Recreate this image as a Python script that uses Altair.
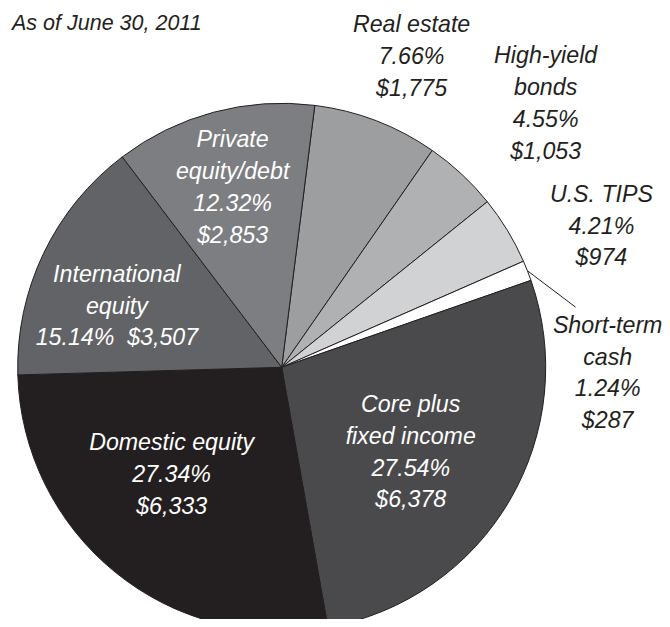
import math
import altair as alt
import pandas as pd

# ---------------- data ----------------
categories = ["Real estate", "High-yield bonds", "U.S. TIPS", "Short-term cash",
              "Core plus fixed income", "Domestic equity", "International equity",
              "Private equity/debt"]
percents = [7.66, 4.55, 4.21, 1.24, 27.54, 27.34, 15.14, 12.32]
dollars = [1775, 1053, 974, 287, 6378, 6333, 3507, 2853]
subtitle = "As of June 30, 2011"

# ---------------- layout / style ----------------
label_names = ["Real estate", "High-yield\nbonds", "U.S. TIPS", "Short-term\ncash",
               "Core plus\nfixed income", "Domestic equity", "International\nequity",
               "Private\nequity/debt"]
value_sep = ["\n", "\n", "\n", "\n", "\n", "\n", "\u00a0\u00a0", "\n"]
slice_colors = ["#9d9ea0", "#b0b1b3", "#d1d2d4", "#ffffff",
                "#4a4a4c", "#231f20", "#626366", "#7d7e81"]
text_colors = ["#231f20"] * 4 + ["#ffffff"] * 4
# polar placement of each label's first baseline, relative to slice mid-angle
label_r = [359.3, 402.6, 360.0, 327.8, 136.6, 137.8, 185.6, 225.4]
label_dtheta = [0.2, -2.0, 3.9, 15.4, -11.2, 13.9, 1.8, 2.4]
leader_r = (264, 300)
leader_dtheta = 9.9

W, H = 654, 611
CX, CY = 273.7, 359.3
R = 264
START_DEG = 7.2
FONT = "Liberation Sans, Arial, sans-serif"
FS = 23.2
INK = "#231f20"

total = sum(percents)


def polar(deg, r):
    a = math.radians(deg)
    return CX + r * math.sin(a), CY - r * math.cos(a)


rows = []
cum = 0.0
for i, (c, p, d) in enumerate(zip(categories, percents, dollars)):
    mid = cum + p / 2
    mid_deg = START_DEG + mid / total * 360
    lx, ly = polar(mid_deg + label_dtheta[i], label_r[i])
    rows.append({
        "idx": i, "category": c, "pct": p, "dollars": d,
        "label": f"{label_names[i]}\n{p:.2f}%{value_sep[i]}${d:,}",
        "lx": lx, "ly": ly, "tcolor": text_colors[i], "mid_deg": mid_deg,
    })
    cum += p
df = pd.DataFrame(rows)

cash = df[df["category"] == "Short-term cash"].iloc[0]
x1, y1 = polar(cash["mid_deg"], leader_r[0])
x2, y2 = polar(cash["mid_deg"] + leader_dtheta, leader_r[1])
leader_df = pd.DataFrame([{"x1": x1, "y1": y1, "x2": x2, "y2": y2}])

start = math.radians(START_DEG)
base = alt.Chart(df)

pie = base.mark_arc(outerRadius=R, stroke=INK, strokeWidth=1).encode(
    theta=alt.Theta("pct:Q", stack=True,
                    scale=alt.Scale(domain=[0, total], range=[start, start + 2 * math.pi])),
    color=alt.Color("category:N", scale=alt.Scale(domain=categories, range=slice_colors),
                    legend=None),
    order=alt.Order("idx:Q", sort="ascending"),
    x=alt.value(CX),
    y=alt.value(CY),
)

labels = base.mark_text(font=FONT, fontSize=FS, fontStyle="italic", lineBreak="\n",
                        lineHeight=31.8, align="center", baseline="alphabetic").encode(
    x=alt.X("lx:Q", scale=None, axis=None),
    y=alt.Y("ly:Q", scale=None, axis=None),
    text="label:N",
    color=alt.Color("tcolor:N", scale=None),
)

leader = alt.Chart(leader_df).mark_rule(color=INK, strokeWidth=1).encode(
    x=alt.X("x1:Q", scale=None, axis=None),
    y=alt.Y("y1:Q", scale=None, axis=None),
    x2="x2:Q",
    y2="y2:Q",
)

note = alt.Chart(pd.DataFrame({"t": [subtitle]})).mark_text(
    font=FONT, fontSize=21.5, fontStyle="italic", align="left", baseline="alphabetic",
    color=INK).encode(x=alt.value(4), y=alt.value(22), text="t:N")

chart = alt.layer(pie, leader, labels, note).properties(
    width=W, height=H, padding=0,
    autosize=alt.AutoSizeParams(type="none"),
).configure_view(stroke=None)

chart.save("out.html", embed_options={"renderer": "svg", "actions": False})
